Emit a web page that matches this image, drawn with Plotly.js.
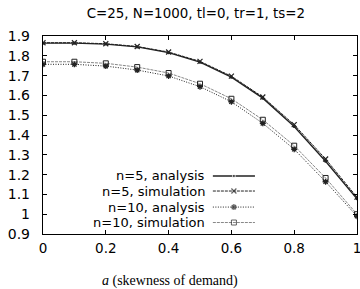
<!DOCTYPE html>
<html><head><meta charset="utf-8">
<script src="https://cdn.plot.ly/plotly-3.0.1.min.js"></script>
<style>body{margin:0;padding:0;background:#fff}#c{width:360px;height:289px}</style>
</head><body><div id="c"></div>
<script>
const skew = [0, 0.1, 0.2, 0.3, 0.4, 0.5, 0.6, 0.7, 0.8, 0.9, 1.0];
const n5Analysis   = [1.864, 1.864, 1.859, 1.845, 1.816, 1.768, 1.692, 1.586, 1.443, 1.267, 1.078];
const n5Simulation = [1.866, 1.866, 1.861, 1.847, 1.819, 1.772, 1.697, 1.592, 1.452, 1.279, 1.086];
const n10Analysis   = [1.757, 1.757, 1.748, 1.728, 1.698, 1.644, 1.568, 1.459, 1.328, 1.164, 0.99];
const n10Simulation = [1.770, 1.770, 1.762, 1.743, 1.713, 1.659, 1.583, 1.477, 1.346, 1.183, 1.0];
const seriesNames = ["n=5, analysis", "n=5, simulation", "n=10, analysis", "n=10, simulation"];
const xTicks = [0, 0.2, 0.4, 0.6, 0.8, 1];
const yTicks = [0.9, 1, 1.1, 1.2, 1.3, 1.4, 1.5, 1.6, 1.7, 1.8, 1.9];

const sans = 'DejaVu Sans, Verdana, sans-serif';
const styles = [
  {line:{color:'#222', width:1.4, dash:'solid'}, marker:{symbol:'circle', size:3, color:'#222'}},
  {line:{color:'#222', width:1, dash:'3px,1px'}, marker:{symbol:'x-thin-open', size:5, color:'#222', line:{width:1.2, color:'#222'}}},
  {line:{color:'#222', width:1, dash:'1px,1.5px'}, marker:{symbol:'asterisk-open', size:5, color:'#222', line:{width:1.3, color:'#222'}}},
  {line:{color:'#888', width:1, dash:'3px,1px'}, marker:{symbol:'square-open', size:5, color:'#222', line:{width:1, color:'#222'}}}
];
const dataSets = [n5Analysis, n5Simulation, n10Analysis, n10Simulation];

const traces = dataSets.map((ys, i) => ({
  x: skew, y: ys, type:'scatter', mode:'lines+markers', name: seriesNames[i],
  line: styles[i].line, marker: styles[i].marker, showlegend:false, hoverinfo:'skip'
}));

// legend samples on an overlay axis (0..1 of plot area)
const legY = [0.293, 0.217, 0.136, 0.058];
const legX0 = 0.541, legX1 = 0.675;
const annotations = [];
dataSets.forEach((ys, i) => {
  const m = Object.assign({}, styles[i].marker);
  m.size = [0, styles[i].marker.size, 0];
  traces.push({x:[legX0, (legX0+legX1)/2, legX1], y:[legY[i], legY[i], legY[i]], xaxis:'x2', yaxis:'y2',
    type:'scatter', mode:'lines+markers', line: styles[i].line, marker: m,
    showlegend:false, hoverinfo:'skip'});
  annotations.push({xref:'x2', yref:'y2', x: legX0 - 0.022, y: legY[i], text: seriesNames[i], showarrow:false,
    xanchor:'right', yanchor:'middle', borderpad:0, font:{family:sans, size:13, color:'#000'}});
});
annotations.push({xref:'paper', yref:'paper', x:0.404, y:-0.235, yanchor:'middle', xanchor:'center', showarrow:false,
  text:'<i>a</i> (skewness of demand)', font:{family:'Liberation Serif, Times New Roman, serif', size:14, color:'#000'}});

const layout = {
  width:360, height:289,
  margin:{l:43, r:3, t:36, b:55},
  paper_bgcolor:'#fff', plot_bgcolor:'#fff',
  showlegend:false,
  title:{text:'C=25, N=1000, tl=0, tr=1, ts=2', x:0.544, xanchor:'center', y:0.955, yanchor:'middle',
    font:{family:sans, size:13.4, color:'#000'}},
  font:{family:sans, size:13.5, color:'#000'},
  xaxis:{range:[0,1], tickvals:xTicks, ticktext:xTicks.map(String), ticks:'inside', ticklen:4, tickcolor:'#000',
    showline:true, linecolor:'#000', linewidth:1.2, mirror:'allticks', showgrid:false, zeroline:false, automargin:false,
    ticklabelstandoff:2, ticklabeloverflow:'allow', tickfont:{family:sans, size:13.5}},
  yaxis:{range:[0.9,1.9], tickvals:yTicks, ticktext:yTicks.map(v=>String(v)), ticks:'inside', ticklen:4, tickcolor:'#000',
    showline:true, linecolor:'#000', linewidth:1.2, mirror:'allticks', showgrid:false, zeroline:false, automargin:false,
    ticklabelstandoff:9, ticklabeloverflow:'allow', tickfont:{family:sans, size:14}},
  xaxis2:{overlaying:'x', range:[0,1], visible:false, fixedrange:true},
  yaxis2:{overlaying:'y', range:[0,1], visible:false, fixedrange:true},
  annotations: annotations
};
Plotly.newPlot('c', traces, layout, {staticPlot:true, displayModeBar:false});
</script></body></html>
